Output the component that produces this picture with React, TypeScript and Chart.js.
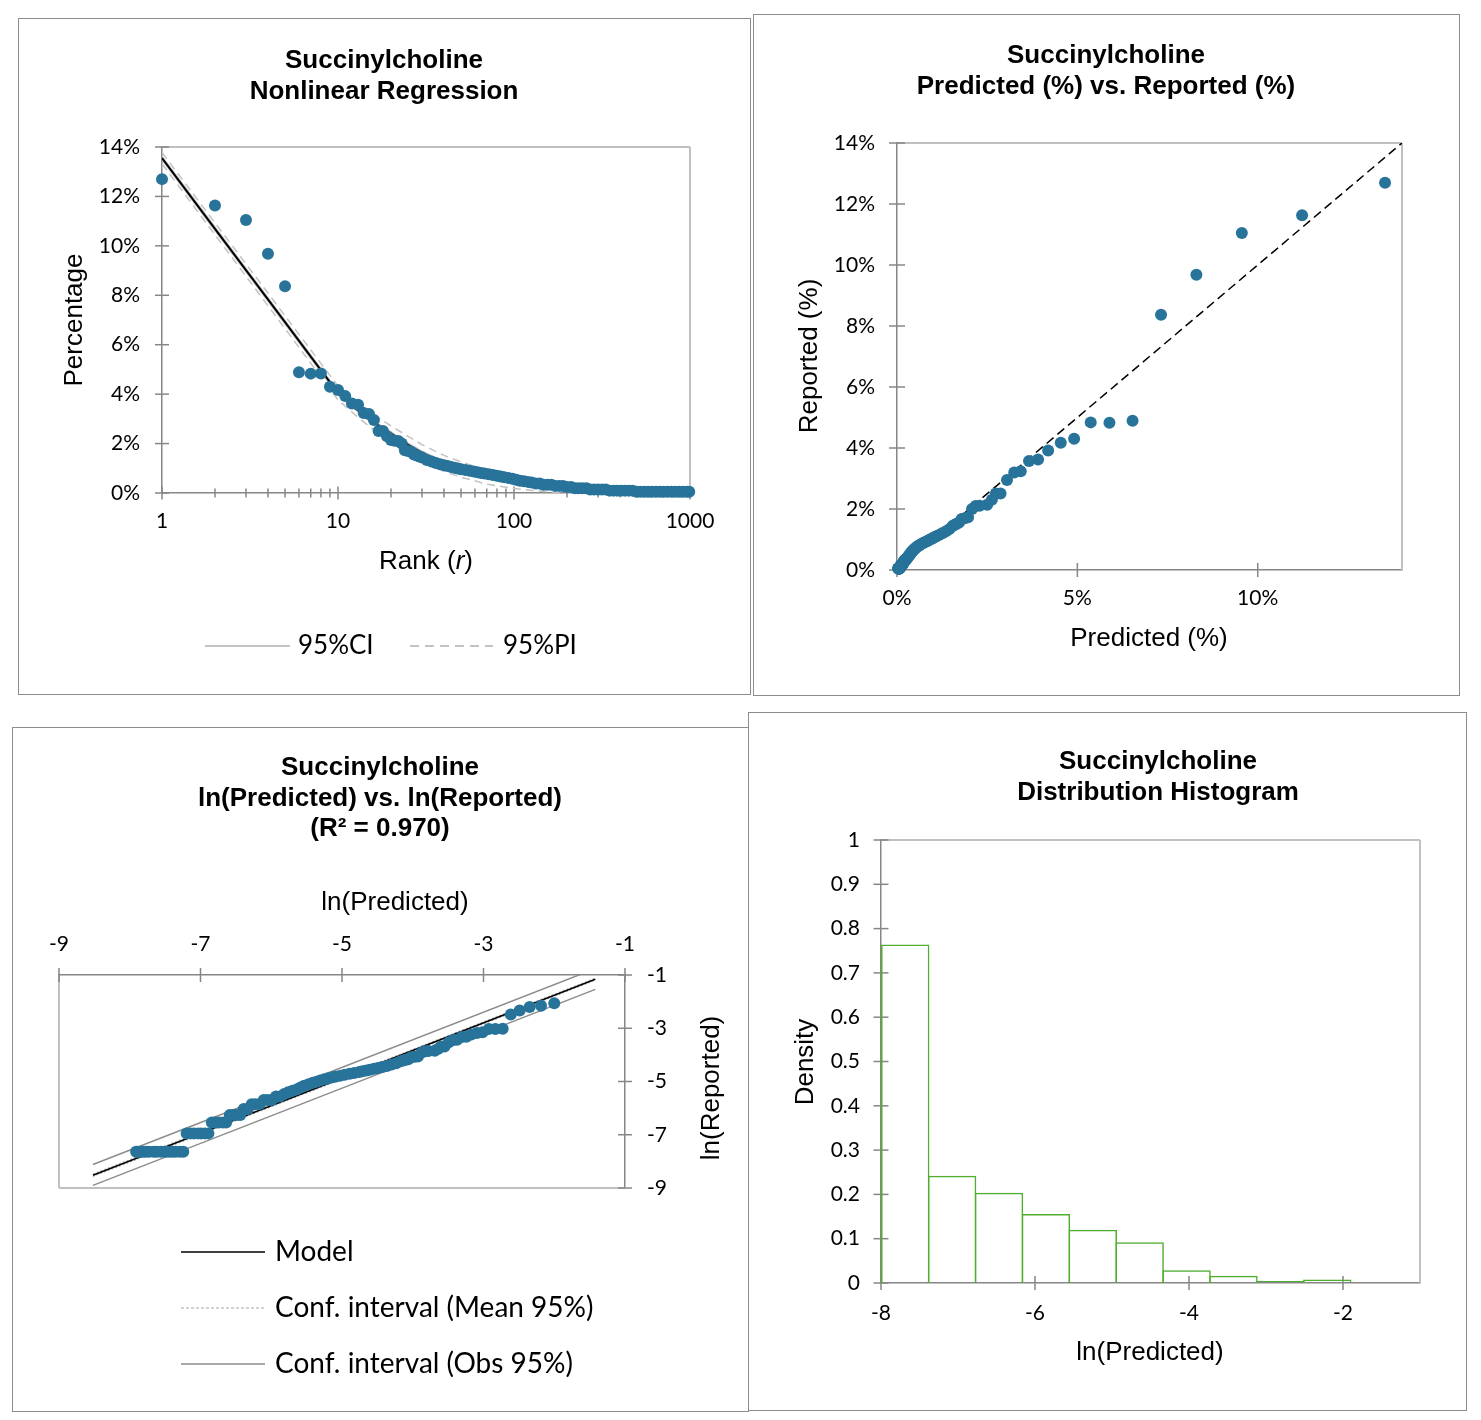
import { useEffect, useRef } from 'react';
import { Chart, registerables } from 'chart.js';

Chart.register(...registerables);

// ---------- ranked values (percent) ----------
const ranks = [
  1, 2, 3, 4, 5, 6, 7, 8, 9, 10,
  11, 12, 13, 14, 15, 16, 17, 18, 19, 20,
  21, 22, 23, 24, 25, 26, 27, 28, 29, 30,
  32, 34, 36, 38, 40, 42, 44, 46, 48, 50,
  53, 56, 59, 62, 65, 68, 72, 76, 80, 84,
  88, 93, 98, 103, 108, 114, 120, 126, 133, 140,
  147, 155, 163, 172, 181, 190, 200, 211, 222, 233,
  245, 258, 271, 285, 300, 316, 332, 349, 367, 386,
  406, 427, 449, 472, 497, 523, 550, 578, 608, 640,
  673, 708, 745, 784, 825, 868, 913, 960, 990,
];

const predictedPct = [
  13.53, 11.23, 9.56, 8.3, 7.32, 6.53, 5.89, 5.37, 4.91, 4.54,
  4.19, 3.91, 3.66, 3.43, 3.25, 3.05, 2.87, 2.74, 2.63, 2.5,
  2.29, 2.18, 2.08, 1.97, 1.88, 1.79, 1.72, 1.66, 1.6, 1.54,
  1.45, 1.36, 1.27, 1.19, 1.12, 1.06, 1.0, 0.95, 0.9, 0.86,
  0.8, 0.75, 0.7, 0.66, 0.62, 0.59, 0.555, 0.525, 0.495, 0.47,
  0.445, 0.42, 0.395, 0.375, 0.355, 0.335, 0.315, 0.298, 0.28, 0.265,
  0.25, 0.236, 0.223, 0.21, 0.198, 0.188, 0.178, 0.168, 0.16, 0.152,
  0.145, 0.138, 0.131, 0.125, 0.118, 0.112, 0.107, 0.102, 0.097, 0.092,
  0.088, 0.083, 0.079, 0.075, 0.0715, 0.068, 0.064, 0.061, 0.058, 0.055,
  0.052, 0.049, 0.047, 0.044, 0.042, 0.0405, 0.0388, 0.0375, 0.0367,
];

const reportedPct = [
  12.7, 11.63, 11.05, 9.68, 8.37, 4.89, 4.83, 4.84, 4.3, 4.17,
  3.92, 3.62, 3.57, 3.24, 3.2, 2.95, 2.51, 2.51, 2.3, 2.14,
  2.11, 2.1, 2.0, 1.73, 1.7, 1.67, 1.56, 1.52, 1.48, 1.44,
  1.34, 1.27, 1.21, 1.16, 1.12, 1.09, 1.05, 1.02, 0.99, 0.96,
  0.93, 0.9, 0.87, 0.84, 0.81, 0.79, 0.76, 0.73, 0.7, 0.67,
  0.64, 0.61, 0.575, 0.54, 0.5, 0.475, 0.45, 0.42, 0.385, 0.385,
  0.337, 0.337, 0.337, 0.288, 0.288, 0.288, 0.24, 0.24, 0.192, 0.192,
  0.192, 0.192, 0.144, 0.144, 0.144, 0.144, 0.144, 0.096, 0.096, 0.096,
  0.096, 0.096, 0.096, 0.096, 0.048, 0.048, 0.048, 0.048, 0.048, 0.048,
  0.048, 0.048, 0.048, 0.048, 0.048, 0.048, 0.048, 0.048, 0.048,
];

// ---------- fitted curve and its 95% bands, sampled along rank ----------
const fitRanks = [1, 2, 3, 5, 7, 10, 13, 16, 20, 25, 30, 40, 50, 70, 100, 150, 200, 300, 500, 1000];
const fitPct = [13.55, 10.69, 9.02, 6.91, 5.52, 4.05, 3.35, 2.85, 2.4, 1.95, 1.62, 1.2, 0.95, 0.64, 0.43, 0.27, 0.19, 0.12, 0.07, 0.036];
const ci95Upper = [13.62, 10.76, 9.09, 6.98, 5.59, 4.12, 3.42, 2.92, 2.47, 2.02, 1.69, 1.27, 1.02, 0.7, 0.48, 0.31, 0.23, 0.16, 0.11, 0.07];
const ci95Lower = [13.48, 10.62, 8.95, 6.84, 5.45, 3.98, 3.28, 2.78, 2.33, 1.88, 1.55, 1.13, 0.88, 0.58, 0.38, 0.23, 0.15, 0.08, 0.03, 0.0];
const pi95Upper = [13.78, 10.93, 9.27, 7.17, 5.79, 4.33, 3.64, 3.15, 2.72, 2.29, 1.96, 1.52, 1.26, 0.92, 0.68, 0.48, 0.38, 0.29, 0.23, 0.19];
const pi95Lower = [13.32, 10.45, 8.77, 6.65, 5.25, 3.77, 3.06, 2.55, 2.08, 1.61, 1.28, 0.88, 0.64, 0.36, 0.18, 0.06, 0.0, -0.05, -0.09, -0.12];

// ---------- log-log fit lines (ln Predicted -> ln Reported) ----------
const lnFitX = [-8.52, -1.42];
const lnModelY = [-8.52, -1.16];
const lnMeanUpperY = [-8.47, -1.12];
const lnMeanLowerY = [-8.57, -1.2];
const lnObsUpperY = [-8.12, -0.76];
const lnObsLowerY = [-8.9, -1.54];

// ---------- histogram of ln(Predicted) ----------
const binEdges = [-7.99, -7.381, -6.772, -6.163, -5.554, -4.945, -4.336, -3.727, -3.118, -2.509, -1.9];
const binDensity = [0.764, 0.242, 0.204, 0.156, 0.12, 0.092, 0.0285, 0.0165, 0.0045, 0.008];

// ---------- axis ticks ----------
const rankTicks = [
  1, 2, 3, 4, 5, 6, 7, 8, 9, 10, 20, 30, 40, 50, 60, 70, 80, 90,
  100, 200, 300, 400, 500, 600, 700, 800, 900, 1000,
];
const rankLabels = [1, 10, 100, 1000];
const pctTicks = [0, 2, 4, 6, 8, 10, 12, 14];
const predTicks = [0, 5, 10];
const lnTicks = [-9, -7, -5, -3, -1];
const histXTicks = [-8, -6, -4, -2];
const densityTicks = [0, 0.1, 0.2, 0.3, 0.4, 0.5, 0.6, 0.7, 0.8, 0.9, 1];

// ---------- styling ----------
const POINT_COLOR = '#28739a';
const AXIS_COLOR = '#868686';
const FRAME_COLOR = '#c0c0c0';
const BAND_COLOR = '#c3c3c3';
const PANEL_BORDER = '#8c8c8c';
const HIST_COLOR = '#4fae2e';
const ARIAL = '"Liberation Sans", Arial, sans-serif';
const HUMANIST = 'Lato, "Open Sans", sans-serif';
const TICK_FONT = { family: HUMANIST, size: 21 };

type Part = { text: string; italic?: boolean };
type Label = { parts: Part[]; x: number; y: number; size: number; family: string; bold?: boolean; rotate?: boolean; align?: 'left' | 'center' };
type Stroke = { x1: number; x2: number; y: number; color: string; width: number; dash?: number[] };
type TickMarks = { scaleId: string; len: number; minorLen?: number; majors?: number[] };
type Decor = { origin: number[]; frame: string[]; ticks: TickMarks[]; labels: Label[]; strokes: Stroke[] };

const txt = (text: string): Part[] => [{ text }];

// frame, crossing tick marks, titles and legends
function makeDecor(d: Decor) {
  return {
    id: 'decor',
    beforeDatasetsDraw(chart: any) {
      const { ctx, chartArea: a } = chart;
      ctx.save();
      ctx.strokeStyle = FRAME_COLOR;
      ctx.lineWidth = 2;
      for (const side of d.frame) {
        ctx.beginPath();
        if (side === 'top') { ctx.moveTo(a.left, a.top); ctx.lineTo(a.right, a.top); }
        if (side === 'bottom') { ctx.moveTo(a.left, a.bottom); ctx.lineTo(a.right, a.bottom); }
        if (side === 'left') { ctx.moveTo(a.left, a.top); ctx.lineTo(a.left, a.bottom); }
        if (side === 'right') { ctx.moveTo(a.right, a.top); ctx.lineTo(a.right, a.bottom); }
        ctx.stroke();
      }
      ctx.strokeStyle = AXIS_COLOR;
      ctx.lineWidth = 1.5;
      for (const tm of d.ticks) {
        const s = chart.scales[tm.scaleId];
        for (const t of s.ticks) {
          const len = tm.majors && !tm.majors.includes(t.value) ? (tm.minorLen as number) : tm.len;
          const p = s.getPixelForValue(t.value);
          ctx.beginPath();
          if (s.isHorizontal()) {
            const y0 = s.position === 'top' ? a.top : a.bottom;
            ctx.moveTo(p, y0 - len);
            ctx.lineTo(p, y0 + len);
          } else {
            const x0 = s.position === 'right' ? a.right : a.left;
            ctx.moveTo(x0 - len, p);
            ctx.lineTo(x0 + len, p);
          }
          ctx.stroke();
        }
      }
      ctx.restore();
    },
    afterDraw(chart: any) {
      const ctx = chart.ctx;
      const [ox, oy] = d.origin;
      ctx.save();
      for (const st of d.strokes) {
        ctx.beginPath();
        ctx.strokeStyle = st.color;
        ctx.lineWidth = st.width;
        ctx.setLineDash(st.dash || []);
        ctx.moveTo(st.x1 - ox, st.y - oy);
        ctx.lineTo(st.x2 - ox, st.y - oy);
        ctx.stroke();
      }
      ctx.setLineDash([]);
      for (const lb of d.labels) {
        ctx.save();
        ctx.translate(lb.x - ox, lb.y - oy);
        if (lb.rotate) ctx.rotate(-Math.PI / 2);
        ctx.textBaseline = 'middle';
        ctx.textAlign = 'left';
        ctx.fillStyle = '#000';
        const fonts = lb.parts.map((p) => `${p.italic ? 'italic ' : ''}${lb.bold ? 'bold ' : ''}${lb.size}px ${lb.family}`);
        const widths = lb.parts.map((p, i) => { ctx.font = fonts[i]; return ctx.measureText(p.text).width; });
        const total = widths.reduce((s, w) => s + w, 0);
        let x = lb.align === 'left' ? 0 : -total / 2;
        lb.parts.forEach((p, i) => { ctx.font = fonts[i]; ctx.fillText(p.text, x, 0); x += widths[i]; });
        ctx.restore();
      }
      ctx.restore();
    },
  };
}

// gaps between the canvas edges and the plot rectangle
function gapsFor(box: number[], plot: number[]) {
  const [l, t, w, h] = box;
  const [pl, pt, pr, pb] = plot;
  return { left: pl - (l + 1), top: pt - (t + 1), right: l + w - 1 - pr, bottom: t + h - 1 - pb } as Record<string, number>;
}

function axis(kind: string, position: string, size: number, min: number, max: number, values: number[], fmt: (v: number) => string, padding: number) {
  const horizontal = position === 'top' || position === 'bottom';
  return {
    type: kind,
    position,
    min,
    max,
    offset: false,
    afterBuildTicks: (s: any) => { s.ticks = values.map((v) => ({ value: v })); },
    afterFit: (s: any) => {
      if (horizontal) s.height = size; else s.width = size;
      s.paddingLeft = 0; s.paddingRight = 0; s.paddingTop = 0; s.paddingBottom = 0;
    },
    grid: { display: false, drawTicks: false },
    border: { display: true, color: AXIS_COLOR, width: 1.5 },
    ticks: { autoSkip: false, maxRotation: 0, minRotation: 0, padding, color: '#000', font: TICK_FONT, callback: (v: any) => fmt(Number(v)) },
  };
}

function baseOptions(gaps: Record<string, number>, axisSides: string[]) {
  const padding: Record<string, number> = { ...gaps };
  for (const s of axisSides) padding[s] = 0;
  return {
    responsive: false,
    animation: false,
    events: [],
    layout: { padding },
    plugins: { legend: { display: false }, tooltip: { enabled: false }, title: { display: false } },
  };
}

const pointSet = (data: { x: number; y: number }[]) => ({
  data,
  pointRadius: 6,
  pointHoverRadius: 6,
  pointBackgroundColor: POINT_COLOR,
  pointBorderColor: POINT_COLOR,
  pointBorderWidth: 0,
  showLine: false,
  clip: false,
});

const lineSet = (data: { x: number; y: number }[], color: string, width: number, dash: number[] = []) => ({
  data,
  showLine: true,
  pointRadius: 0,
  pointHoverRadius: 0,
  borderColor: color,
  borderWidth: width,
  borderDash: dash,
  tension: 0,
  fill: false,
});

// ---------- panel 1: nonlinear regression on rank ----------
const P1_BOX = [18, 18, 733, 677];
const P1_PLOT = [162, 147, 690, 493];

function rankChart(origin: number[]) {
  const g = gapsFor(P1_BOX, P1_PLOT);
  const curve = (vals: number[]) => fitRanks.map((r, i) => ({ x: r, y: vals[i] }));
  return {
    type: 'scatter',
    data: {
      datasets: [
        pointSet(ranks.map((r, i) => ({ x: r, y: reportedPct[i] }))),
        lineSet(curve(fitPct), '#000', 2),
        lineSet(curve(ci95Upper), BAND_COLOR, 1.5),
        lineSet(curve(ci95Lower), BAND_COLOR, 1.5),
        lineSet(curve(pi95Upper), BAND_COLOR, 1.5, [8, 5]),
        lineSet(curve(pi95Lower), BAND_COLOR, 1.5, [8, 5]),
      ],
    },
    options: {
      ...baseOptions(g, ['left', 'bottom']),
      scales: {
        x: axis('logarithmic', 'bottom', g.bottom, 1, 1000, rankTicks, (v) => (rankLabels.includes(v) ? String(v) : ''), 16),
        y: axis('linear', 'left', g.left, 0, 14, pctTicks, (v) => `${v}%`, 22),
      },
    },
    plugins: [makeDecor({
      origin,
      frame: ['top', 'right'],
      ticks: [{ scaleId: 'x', len: 6.5, minorLen: 4.5, majors: rankLabels }, { scaleId: 'y', len: 7 }],
      labels: [
        { parts: txt('Succinylcholine'), x: 384, y: 61, size: 26, family: ARIAL, bold: true },
        { parts: txt('Nonlinear Regression'), x: 384, y: 92, size: 26, family: ARIAL, bold: true },
        { parts: txt('Percentage'), x: 75, y: 320, size: 26, family: ARIAL, rotate: true },
        { parts: [{ text: 'Rank (' }, { text: 'r', italic: true }, { text: ')' }], x: 426, y: 562, size: 26, family: ARIAL },
        { parts: txt('95%CI'), x: 298, y: 646, size: 26, family: HUMANIST, align: 'left' },
        { parts: txt('95%PI'), x: 503, y: 646, size: 26, family: HUMANIST, align: 'left' },
      ],
      strokes: [
        { x1: 205, x2: 290, y: 646, color: BAND_COLOR, width: 2 },
        { x1: 410, x2: 493, y: 646, color: BAND_COLOR, width: 2, dash: [9, 6] },
      ],
    })],
  };
}

// ---------- panel 2: predicted vs reported ----------
const P2_BOX = [753, 14, 707, 682];
const P2_PLOT = [897, 143, 1402, 570];
const identityLine = [0, 14];

function parityChart(origin: number[]) {
  const g = gapsFor(P2_BOX, P2_PLOT);
  return {
    type: 'scatter',
    data: {
      datasets: [
        pointSet(predictedPct.map((p, i) => ({ x: p, y: reportedPct[i] }))),
        lineSet(identityLine.map((v) => ({ x: v, y: v })), '#000', 1.5, [9, 5]),
      ],
    },
    options: {
      ...baseOptions(g, ['left', 'bottom']),
      scales: {
        x: axis('linear', 'bottom', g.bottom, 0, 14, predTicks, (v) => `${v}%`, 16),
        y: axis('linear', 'left', g.left, 0, 14, pctTicks, (v) => `${v}%`, 22),
      },
    },
    plugins: [makeDecor({
      origin,
      frame: ['top', 'right'],
      ticks: [{ scaleId: 'x', len: 7 }, { scaleId: 'y', len: 8 }],
      labels: [
        { parts: txt('Succinylcholine'), x: 1106, y: 56, size: 26, family: ARIAL, bold: true },
        { parts: txt('Predicted (%) vs. Reported (%)'), x: 1106, y: 87, size: 26, family: ARIAL, bold: true },
        { parts: txt('Reported (%)'), x: 810, y: 356, size: 26, family: ARIAL, rotate: true },
        { parts: txt('Predicted (%)'), x: 1149, y: 639, size: 26, family: ARIAL },
      ],
      strokes: [],
    })],
  };
}

// ---------- panel 3: ln(Predicted) vs ln(Reported) ----------
const P3_BOX = [12, 727, 737, 685];
const P3_PLOT = [59, 975, 625, 1188];

function logLogChart(origin: number[]) {
  const g = gapsFor(P3_BOX, P3_PLOT);
  const fit = (ys: number[]) => lnFitX.map((x, i) => ({ x, y: ys[i] }));
  return {
    type: 'scatter',
    data: {
      datasets: [
        pointSet(predictedPct.map((p, i) => ({ x: Math.log(p / 100), y: Math.log(reportedPct[i] / 100) }))),
        lineSet(fit(lnModelY), '#000', 1.5),
        lineSet(fit(lnMeanUpperY), '#a6a6a6', 1, [2, 2]),
        lineSet(fit(lnMeanLowerY), '#a6a6a6', 1, [2, 2]),
        lineSet(fit(lnObsUpperY), '#8c8c8c', 1.5),
        lineSet(fit(lnObsLowerY), '#8c8c8c', 1.5),
      ],
    },
    options: {
      ...baseOptions(g, ['top', 'right']),
      scales: {
        x: axis('linear', 'top', g.top, -9, -1, lnTicks, (v) => String(v), 18),
        y: axis('linear', 'right', g.right, -9, -1, lnTicks, (v) => String(v), 22),
      },
    },
    plugins: [makeDecor({
      origin,
      frame: ['left', 'bottom'],
      ticks: [{ scaleId: 'x', len: 7 }, { scaleId: 'y', len: 7 }],
      labels: [
        { parts: txt('Succinylcholine'), x: 380, y: 768, size: 26, family: ARIAL, bold: true },
        { parts: txt('ln(Predicted) vs. ln(Reported)'), x: 380, y: 799, size: 26, family: ARIAL, bold: true },
        { parts: txt('(R\u00B2 = 0.970)'), x: 380, y: 829, size: 26, family: ARIAL, bold: true },
        { parts: txt('ln(Predicted)'), x: 395, y: 903, size: 26, family: ARIAL },
        { parts: txt('ln(Reported)'), x: 712, y: 1088, size: 26, family: ARIAL, rotate: true },
        { parts: txt('Model'), x: 275, y: 1252, size: 28, family: HUMANIST, align: 'left' },
        { parts: txt('Conf. interval (Mean 95%)'), x: 275, y: 1308, size: 28, family: HUMANIST, align: 'left' },
        { parts: txt('Conf. interval (Obs 95%)'), x: 275, y: 1364, size: 28, family: HUMANIST, align: 'left' },
      ],
      strokes: [
        { x1: 181, x2: 265, y: 1252, color: '#000', width: 1.5 },
        { x1: 181, x2: 265, y: 1308, color: '#a6a6a6', width: 1, dash: [3, 2] },
        { x1: 181, x2: 265, y: 1364, color: '#8c8c8c', width: 1.5 },
      ],
    })],
  };
}

// ---------- panel 4: distribution histogram ----------
const P4_BOX = [748, 712, 719, 699];
const P4_PLOT = [881, 840, 1420, 1283];

function histogramChart(origin: number[]) {
  const g = gapsFor(P4_BOX, P4_PLOT);
  const bars = binDensity.map((dens, i) => ({ x: (binEdges[i] + binEdges[i + 1]) / 2, y: dens }));
  return {
    type: 'bar',
    data: {
      datasets: [{
        data: bars,
        backgroundColor: 'rgba(0,0,0,0)',
        borderColor: HIST_COLOR,
        borderWidth: 1.5,
        barPercentage: 1.032,
        categoryPercentage: 1,
      }],
    },
    options: {
      ...baseOptions(g, ['left', 'bottom']),
      scales: {
        x: axis('linear', 'bottom', g.bottom, -8, -1, histXTicks, (v) => String(v), 18),
        y: axis('linear', 'left', g.left, 0, 1, densityTicks, (v) => String(v), 21),
      },
    },
    plugins: [makeDecor({
      origin,
      frame: ['top', 'right'],
      ticks: [{ scaleId: 'x', len: 7 }, { scaleId: 'y', len: 7.5 }],
      labels: [
        { parts: txt('Succinylcholine'), x: 1158, y: 762, size: 26, family: ARIAL, bold: true },
        { parts: txt('Distribution Histogram'), x: 1158, y: 793, size: 26, family: ARIAL, bold: true },
        { parts: txt('Density'), x: 806, y: 1062, size: 26, family: ARIAL, rotate: true },
        { parts: txt('ln(Predicted)'), x: 1150, y: 1353, size: 26, family: ARIAL },
      ],
      strokes: [],
    })],
  };
}

function ChartBox({ box, make }: { box: number[]; make: (origin: number[]) => any }) {
  const ref = useRef<HTMLCanvasElement | null>(null);
  const [l, t, w, h] = box;
  useEffect(() => {
    const chart = new Chart(ref.current as HTMLCanvasElement, make([l + 1, t + 1]));
    return () => chart.destroy();
  }, []);
  return (
    <div style={{ position: 'absolute', left: l, top: t, width: w, height: h, border: `1px solid ${PANEL_BORDER}`, boxSizing: 'border-box', background: '#fff' }}>
      <canvas ref={ref} width={w - 2} height={h - 2} style={{ display: 'block', width: w - 2, height: h - 2 }} />
    </div>
  );
}

export default function App() {
  return (
    <div style={{ position: 'absolute', left: 0, top: 0, width: 1481, height: 1420, background: '#fff' }}>
      <ChartBox box={P1_BOX} make={rankChart} />
      <ChartBox box={P2_BOX} make={parityChart} />
      <ChartBox box={P3_BOX} make={logLogChart} />
      <ChartBox box={P4_BOX} make={histogramChart} />
    </div>
  );
}
